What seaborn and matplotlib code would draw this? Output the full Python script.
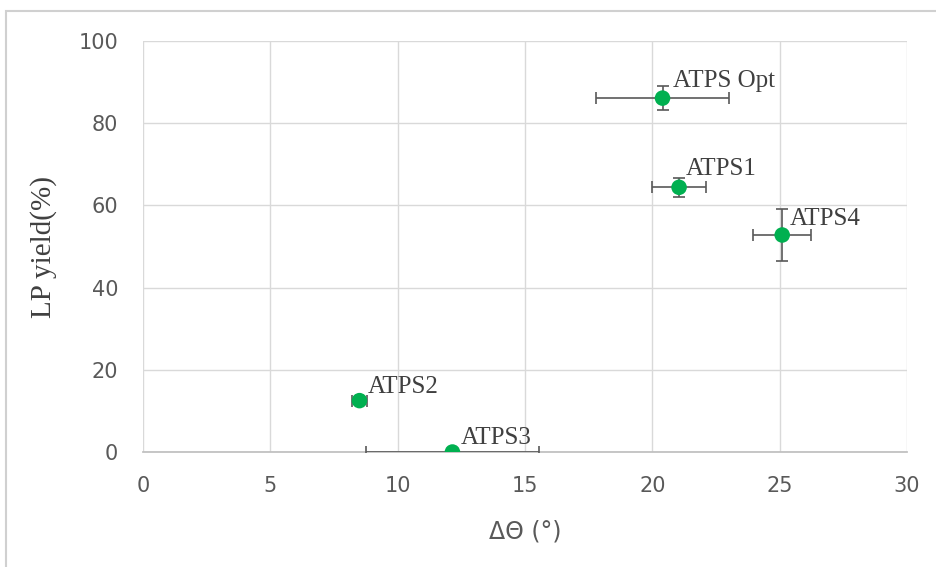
import matplotlib
matplotlib.use("Agg")
import matplotlib.pyplot as plt
import seaborn as sns
import pandas as pd
from matplotlib.patches import Rectangle

# Measured systems
labels = ["ATPS Opt", "ATPS1", "ATPS4", "ATPS2", "ATPS3"]
delta_theta = [20.4, 21.05, 25.1, 8.5, 12.15]
delta_theta_err = [2.6, 1.06, 1.14, 0.31, 3.4]
lp_yield = [86.1, 64.4, 52.8, 12.5, 0.0]
lp_yield_err = [3.0, 2.3, 6.4, 0.0, 0.0]

x_ticks = [0, 5, 10, 15, 20, 25, 30]
y_ticks = [0, 20, 40, 60, 80, 100]

df = pd.DataFrame({"label": labels, "dtheta": delta_theta, "dtheta_err": delta_theta_err,
                   "yield": lp_yield, "yield_err": lp_yield_err})

sns.set_theme(style="white")
plt.rcParams["font.family"] = ["Liberation Sans Narrow", "DejaVu Sans"]
serif = ["Liberation Serif", "DejaVu Serif"]

fig = plt.figure(figsize=(9.36, 5.67), dpi=100)
ax = fig.add_axes([0.1528, 0.2028, 0.8162, 0.7249])

# light frame around the chart area
fig.patches.append(Rectangle((0.006, -0.1), 1.2, 1.08, transform=fig.transFigure,
                             fill=False, edgecolor="#d0d0d0", linewidth=1.5, zorder=0))

err_style = dict(fmt="none", ecolor="#595959", elinewidth=1.2, capsize=4, capthick=1.2, zorder=3)
hx = df[df["dtheta_err"] > 0]
ax.errorbar(hx["dtheta"], hx["yield"], xerr=hx["dtheta_err"], **err_style)
vy = df[df["yield_err"] > 0]
ax.errorbar(vy["dtheta"], vy["yield"], yerr=vy["yield_err"], **err_style)

sns.scatterplot(data=df, x="dtheta", y="yield", ax=ax, s=125, color="#00b050",
                edgecolor="none", zorder=4, legend=False)

offsets = {"ATPS Opt": (0.4, 2.8), "ATPS1": (0.27, 3.0), "ATPS4": (0.3, 2.4),
           "ATPS2": (0.33, 1.9), "ATPS3": (0.33, 1.9)}
for _, r in df.iterrows():
    dx, dy = offsets[r["label"]]
    ax.text(r["dtheta"] + dx, r["yield"] + dy, r["label"], fontsize=18,
            family=serif, color="#404040", ha="left", va="baseline", zorder=5)

ax.set_xlim(0, 30)
ax.set_ylim(0, 100)
ax.set_xticks(x_ticks)
ax.set_yticks(y_ticks)
ax.grid(True, color="#d9d9d9", linewidth=1)
ax.set_axisbelow(True)
for side in ["left", "right", "top"]:
    ax.spines[side].set_visible(False)
ax.spines["bottom"].set_color("#bfbfbf")
ax.tick_params(axis="both", length=0, labelsize=15, colors="#595959")
ax.tick_params(axis="x", pad=17)
ax.tick_params(axis="y", pad=18)

ax.set_xlabel("ΔΘ (°)", fontsize=17, color="#595959")
ax.xaxis.set_label_coords(0.5, -0.165)
ax.set_ylabel("LP yield(%)", fontsize=21, color="#404040", family=serif)
ax.yaxis.set_label_coords(-0.112, 0.5)

fig.savefig("out.png", dpi=100)
